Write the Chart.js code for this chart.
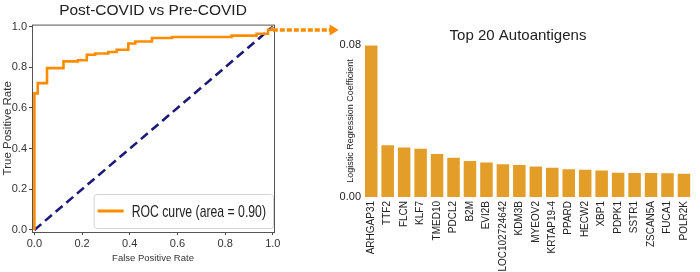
<!DOCTYPE html>
<html>
<head>
<meta charset="utf-8">
<script src="https://cdn.jsdelivr.net/npm/chart.js@4"></script>
<style>
  html, body { margin: 0; padding: 0; background: #fff; }
  #wrap { position: relative; width: 700px; height: 272px; overflow: hidden; }
  canvas { position: absolute; top: 0; }
  #c-roc { left: 0; }
  #c-bar { left: 330px; }
</style>
</head>
<body>
<div id="wrap">
  <canvas id="c-roc" width="345" height="272"></canvas>
  <canvas id="c-bar" width="370" height="272"></canvas>
</div>
<script>
// ROC curve (step points)
const rocFpr = [0, 0, 0.014, 0.014, 0.053, 0.053, 0.122, 0.122, 0.182, 0.182, 0.22, 0.22, 0.255, 0.255,
  0.31, 0.31, 0.345, 0.345, 0.394, 0.394, 0.423, 0.423, 0.493, 0.493, 0.577, 0.577, 0.827, 0.827,
  0.932, 0.932, 0.98, 0.98, 0.996, 0.996];
const rocTpr = [0, 0.672, 0.672, 0.722, 0.722, 0.796, 0.796, 0.829, 0.829, 0.835, 0.835, 0.862, 0.862, 0.868,
  0.868, 0.875, 0.875, 0.886, 0.886, 0.917, 0.917, 0.927, 0.927, 0.944, 0.944, 0.949, 0.949, 0.956,
  0.956, 0.965, 0.965, 0.985, 0.985, 1.0];
const chanceX = [0, 1];
const chanceY = [0, 1];
const arrowX = [1.0, 1.251];
const arrowY = [0.983, 0.983];
const rocTicks = [0, 0.2, 0.4, 0.6, 0.8, 1.0];

// Top 20 autoantigens
const genes = ['ARHGAP31', 'TTF2', 'FLCN', 'KLF7', 'TMED10', 'PDCL2', 'B2M', 'EVI2B', 'LOC102724642',
  'KDM3B', 'MYEOV2', 'KRTAP19-4', 'PPARD', 'HECW2', 'XBP1', 'PDPK1', 'SSTR1', 'ZSCAN5A', 'FUCA1', 'POLR2K'];
const coefs = [0.0797, 0.0272, 0.0260, 0.0254, 0.0226, 0.0207, 0.0189, 0.0181, 0.0172, 0.0168,
  0.0160, 0.0154, 0.0146, 0.0144, 0.0139, 0.0128, 0.0126, 0.0126, 0.0125, 0.0123];
const coefTicks = [0, 0.08];

const SANS = "'Liberation Sans', Arial, sans-serif";
const ORANGE = '#ff8c00';
const NAVY = '#1a1a78';

const pts = (xs, ys) => xs.map((x, i) => ({ x: x, y: ys[i] }));

// box round the plot, like matplotlib's spines
const framePlugin = {
  id: 'frame',
  beforeDatasetsDraw(chart) {
    const { ctx, chartArea: a } = chart;
    ctx.save();
    ctx.strokeStyle = '#555';
    ctx.lineWidth = 1;
    ctx.strokeRect(a.left + 0.5, a.top + 0.5, a.right - a.left, a.bottom - a.top);
    ctx.restore();
  }
};

// arrow head at the end of the dashed pointer (points outside the plot area are skipped by chart.js)
const arrowHead = {
  id: 'arrowHead',
  afterDatasetsDraw(chart) {
    const meta = chart.getDatasetMeta(2);
    const p = meta.data[meta.data.length - 1];
    const ctx = chart.ctx;
    ctx.save();
    ctx.fillStyle = ORANGE;
    ctx.beginPath();
    ctx.moveTo(p.x + 6, p.y);
    ctx.lineTo(p.x - 3, p.y - 5.5);
    ctx.lineTo(p.x - 3, p.y + 5.5);
    ctx.closePath();
    ctx.fill();
    ctx.restore();
  }
};

// legend in the lower right corner of the plot (text squeezed like the source figure)
const cornerLegend = {
  id: 'cornerLegend',
  afterDatasetsDraw(chart) {
    const { ctx, chartArea: a } = chart;
    const ds = chart.data.datasets[0];
    ctx.save();
    ctx.font = '17px ' + SANS;
    const sx = 0.72;
    const tw = ctx.measureText(ds.label).width * sx;
    const w = 4 + 26 + 8 + tw + 7, h = 34;
    const x = a.right - 1 - w, y = a.bottom - 4 - h;
    ctx.beginPath();
    ctx.roundRect(x + 0.5, y + 0.5, w, h, 3);
    ctx.fillStyle = 'rgba(255,255,255,0.85)';
    ctx.fill();
    ctx.strokeStyle = '#d4d4d4';
    ctx.lineWidth = 1;
    ctx.stroke();
    ctx.strokeStyle = ds.borderColor;
    ctx.lineWidth = 3;
    ctx.beginPath();
    ctx.moveTo(x + 4, y + h / 2);
    ctx.lineTo(x + 30, y + h / 2);
    ctx.stroke();
    ctx.fillStyle = '#222';
    ctx.textBaseline = 'middle';
    ctx.translate(x + 38, y + h / 2 + 1);
    ctx.scale(sx, 1);
    ctx.fillText(ds.label, 0, 0);
    ctx.restore();
  }
};

new Chart(document.getElementById('c-roc'), {
  type: 'scatter',
  data: {
    datasets: [
      { label: 'ROC curve (area = 0.90)', data: pts(rocFpr, rocTpr), showLine: true,
        borderColor: ORANGE, borderWidth: 2.6, pointRadius: 0 },
      { label: 'chance', data: pts(chanceX, chanceY), showLine: true,
        borderColor: NAVY, borderWidth: 2.6, borderDash: [9, 5], pointRadius: 0 },
      { label: 'arrow', data: pts(arrowX, arrowY), showLine: true, clip: false,
        borderColor: ORANGE, borderWidth: 3.5, borderDash: [5, 2], pointRadius: 0 }
    ]
  },
  options: {
    responsive: false, animation: false,
    layout: { padding: { left: 0, right: 71, top: 0, bottom: 0 } },
    plugins: {
      legend: { display: false },
      tooltip: { enabled: false },
      title: { display: true, text: 'Post-COVID vs Pre-COVID', color: '#222', fullSize: false,
        font: { family: SANS, size: 15.5, weight: 'normal' }, padding: { top: 1, bottom: 5 } }
    },
    scales: {
      x: {
        type: 'linear', min: -0.01, max: 1.005,
        afterBuildTicks: s => { s.ticks = rocTicks.map(v => ({ value: v })); },
        afterFit: s => { s.height = 40; },
        grid: { drawOnChartArea: false, tickLength: 3, color: '#444' },
        border: { display: false },
        ticks: { color: '#333', padding: 2, font: { family: SANS, size: 11 }, callback: v => v.toFixed(1) },
        title: { display: true, text: 'False Positive Rate', color: '#333',
          font: { family: SANS, size: 9.5 }, padding: { top: 0, bottom: 8 } }
      },
      y: {
        type: 'linear', min: -0.01, max: 1.01,
        afterBuildTicks: s => { s.ticks = rocTicks.map(v => ({ value: v })); },
        afterFit: s => { s.width = 32; },
        grid: { drawOnChartArea: false, tickLength: 3, color: '#444' },
        border: { display: false },
        ticks: { color: '#333', padding: 2, font: { family: SANS, size: 11 }, callback: v => v.toFixed(1) },
        title: { display: true, text: 'True Positive Rate', color: '#333',
          font: { family: SANS, size: 11.5 }, padding: { top: 1, bottom: 0 } }
      }
    }
  },
  plugins: [framePlugin, arrowHead, cornerLegend]
});

new Chart(document.getElementById('c-bar'), {
  type: 'bar',
  data: {
    labels: genes,
    datasets: [{ label: 'coef', data: coefs, backgroundColor: '#e39d29',
      barPercentage: 0.76, categoryPercentage: 1.0 }]
  },
  options: {
    responsive: false, animation: false,
    layout: { padding: { left: 8, right: 2, top: 0, bottom: 0 } },
    plugins: {
      legend: { display: false },
      tooltip: { enabled: false },
      title: { display: true, text: 'Top 20 Autoantigens', color: '#222',
        font: { family: SANS, size: 15, weight: 'normal' }, padding: { top: 27, bottom: 0 } }
    },
    scales: {
      x: {
        afterFit: s => { s.height = 75; },
        grid: { display: false, drawTicks: false },
        border: { display: false },
        ticks: { color: '#222', padding: 4, minRotation: 90, maxRotation: 90, autoSkip: false,
          font: { family: SANS, size: 10 } }
      },
      y: {
        min: 0, max: 0.08,
        afterBuildTicks: s => { s.ticks = coefTicks.map(v => ({ value: v })); },
        afterFit: s => { s.width = 25; },
        grid: { display: false, drawTicks: false },
        border: { display: false },
        ticks: { color: '#222', padding: 2, font: { family: SANS, size: 11 }, callback: v => v.toFixed(2) },
        title: { display: true, text: 'Logistic Regression Coefficient', color: '#222',
          font: { family: SANS, size: 9 }, padding: { top: 7, bottom: 0 } }
      }
    }
  }
});
</script>
</body>
</html>
